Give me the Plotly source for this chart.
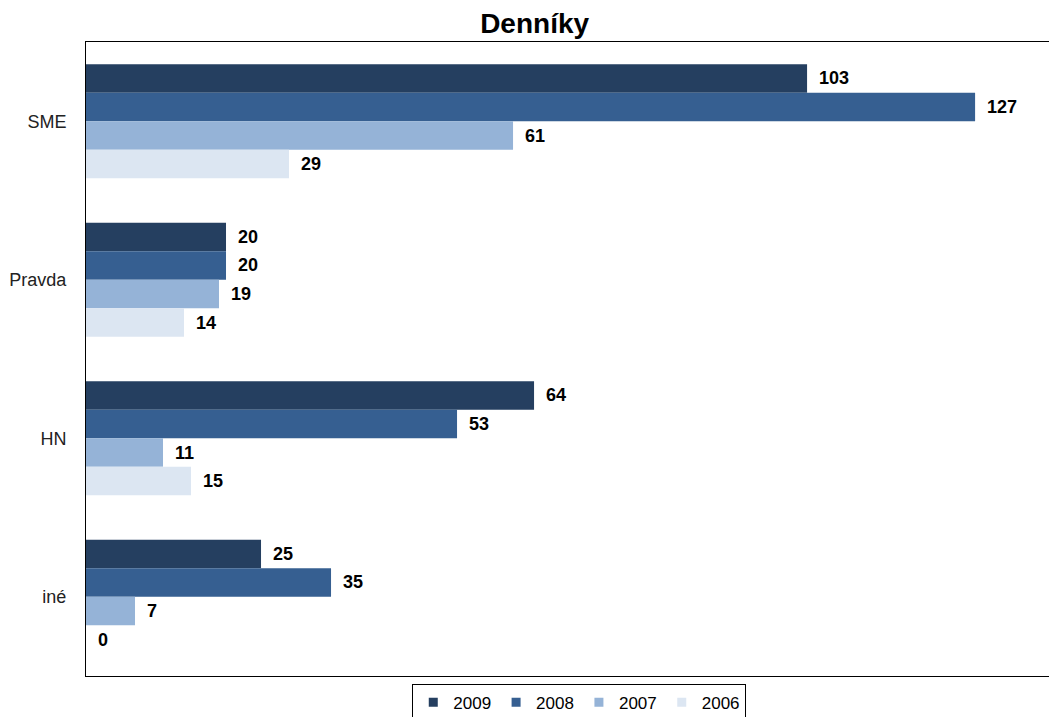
import plotly.graph_objects as go

categories = ["SME", "Pravda", "HN", "iné"]
years = ["2009", "2008", "2007", "2006"]
v2009 = [103, 20, 64, 25]
v2008 = [127, 20, 53, 35]
v2007 = [61, 19, 11, 7]
v2006 = [29, 14, 15, 0]
colors = ["#253F60", "#365F91", "#95B3D7", "#DCE6F2"]

series = [v2009, v2008, v2007, v2006]
fig = go.Figure()
for name, vals, col in zip(years, series, colors):
    fig.add_trace(go.Bar(
        y=categories, x=vals, name=name, orientation="h",
        marker=dict(color=col, line=dict(width=0)),
        text=vals, texttemplate="\u2002<b>%{text}</b>", textposition="outside",
        textfont=dict(family="Liberation Sans, Arial", size=18, color="black"),
        cliponaxis=False, showlegend=False,
    ))
# legend entries with small square symbols
for name, col in zip(years, colors):
    fig.add_trace(go.Scatter(
        x=[None], y=[None], name=name, mode="markers",
        marker=dict(symbol="square", size=9, color=col),
    ))

fig.update_layout(
    width=1049, height=709,
    paper_bgcolor="white", plot_bgcolor="white",
    margin=dict(l=78, r=0, t=34, b=41, autoexpand=False),
    barmode="group", bargap=0.28, bargroupgap=0,
    title=dict(text="<b>Denníky</b>", x=0.502, xanchor="center", y=0.979, yanchor="middle",
               font=dict(family="Liberation Sans, Arial", size=28, color="black")),
    font=dict(family="Liberation Sans, Arial", size=18, color="#222222"),
    xaxis=dict(range=[0, 138.7], showticklabels=False, showgrid=False, zeroline=False,
               showline=True, linecolor="black", linewidth=1, mirror=True, ticks="",
               automargin=False),
    yaxis=dict(autorange="reversed", showgrid=False, showline=True, linecolor="black",
               linewidth=1, mirror=True, ticks="", ticklabelstandoff=15, automargin=False,
               tickfont=dict(size=18, color="#222222")),
    legend=dict(orientation="h", x=0.508, xanchor="center",
                yref="container", y=0.047, yanchor="top",
                bordercolor="black", borderwidth=1, bgcolor="white",
                font=dict(size=17, color="black"), traceorder="normal",
                itemwidth=30, tracegroupgap=0),
    showlegend=True,
)

fig.write_html("out.html")
